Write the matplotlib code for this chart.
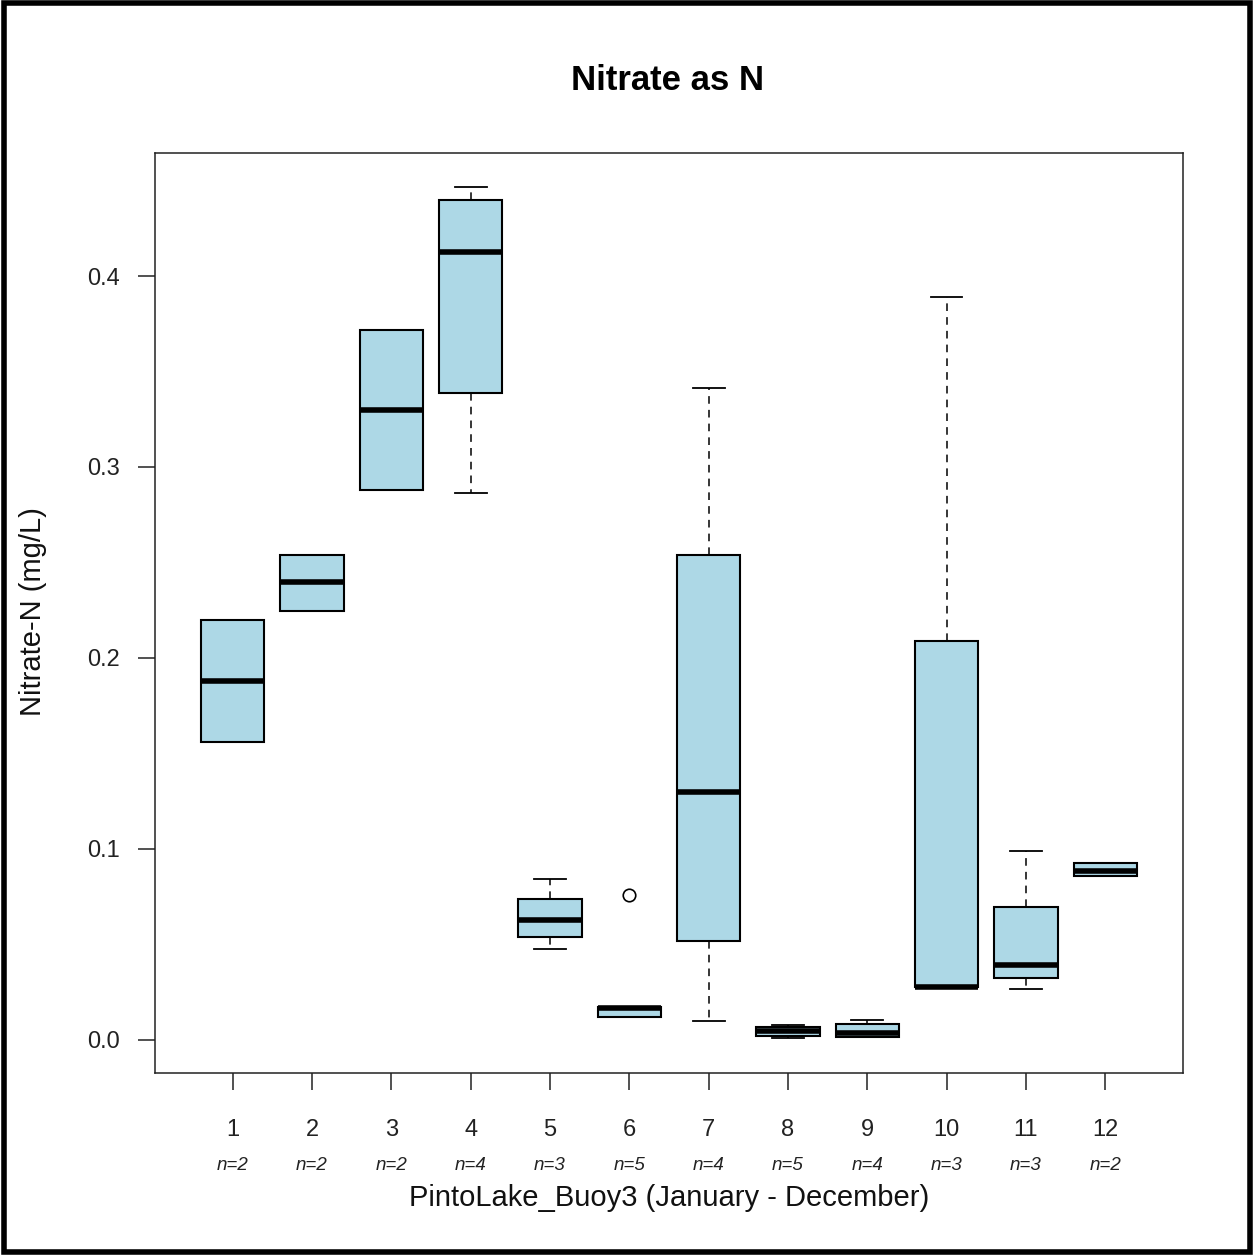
import numpy as np
import matplotlib
matplotlib.use('Agg')
import matplotlib.pyplot as plt
from matplotlib.patches import Rectangle

plt.rcParams['font.family'] = ['Liberation Sans', 'DejaVu Sans']

# monthly summary stats (mg/L)
months = [1, 2, 3, 4, 5, 6, 7, 8, 9, 10, 11, 12]
n_obs = [2, 2, 2, 4, 3, 5, 4, 5, 4, 3, 3, 2]
q1 = [0.156, 0.2244, 0.2879, 0.3388, 0.054, 0.0121, 0.0514, 0.0021, 0.0016, 0.0273, 0.0325, 0.0855]
med = [0.1877, 0.2396, 0.3298, 0.4127, 0.0624, 0.0168, 0.1295, 0.0047, 0.0034, 0.0273, 0.0393, 0.0881]
q3 = [0.2197, 0.2538, 0.3718, 0.440, 0.0734, 0.0173, 0.2538, 0.0068, 0.0084, 0.209, 0.0697, 0.0923]
whislo = [0.156, 0.2244, 0.2879, 0.2863, 0.0477, 0.0121, 0.010, 0.001, 0.0016, 0.0273, 0.0267, 0.0855]
whishi = [0.2197, 0.2538, 0.3718, 0.4468, 0.0839, 0.0173, 0.3414, 0.0075, 0.0105, 0.389, 0.0988, 0.0923]
outliers = [[], [], [], [], [], [0.0755], [], [], [], [], [], []]

stats = []
for i in range(len(months)):
    stats.append(dict(med=med[i], q1=q1[i], q3=q3[i], whislo=whislo[i],
                      whishi=whishi[i], fliers=outliers[i], label=str(months[i])))

fig = plt.figure(figsize=(12.54, 12.55), dpi=100)
ax = fig.add_axes([155 / 1254, 1 - 1073 / 1255, (1183 - 155) / 1254, (1073 - 153) / 1255])

bp = ax.bxp(stats, positions=months, widths=0.8, patch_artist=True,
            showfliers=True,
            boxprops=dict(facecolor='#ADD8E6', edgecolor='black', linewidth=1.5),
            medianprops=dict(color='black', linewidth=4, solid_capstyle='butt'),
            whiskerprops=dict(color='black', linewidth=1.1, linestyle=(0, (5, 4))),
            capprops=dict(color='black', linewidth=1.3),
            flierprops=dict(marker='o', markerfacecolor='white', markeredgecolor='black',
                            markersize=9, markeredgewidth=1.2))
for b in bp['boxes']:
    b.set_zorder(3)
for m in bp['medians']:
    m.set_zorder(4)

ax.set_xlim(0.02, 12.98)
ax.set_ylim(-0.0175, 0.4645)
ax.set_yticks([0.0, 0.1, 0.2, 0.3, 0.4])
ax.set_yticklabels(['0.0', '0.1', '0.2', '0.3', '0.4'])
ax.set_xticks(months)
ax.set_xticklabels([str(m) for m in months])
ax.tick_params(axis='both', direction='out', length=12, width=1.1, labelsize=17, colors='#222222')
ax.tick_params(axis='x', pad=21)
ax.tick_params(axis='y', pad=13)
for s in ax.spines.values():
    s.set_linewidth(1.1)
    s.set_color('#222222')

# sample counts under each month
for m, n in zip(months, n_obs):
    ax.text(m, -0.1, f'n={n}', transform=ax.get_xaxis_transform(), ha='center', va='center',
            fontsize=13.5, style='italic', color='#222222')

fig.text(0.5 * (155 + 1183) / 1254, 1 - 1198 / 1255, 'PintoLake_Buoy3 (January - December)',
         ha='center', va='center', fontsize=21, color='#111111')
fig.text(33 / 1254, 1 - 612 / 1255, 'Nitrate-N (mg/L)', rotation=90,
         ha='center', va='center', fontsize=21, color='#111111')
fig.text(668 / 1254, 1 - 81 / 1255, 'Nitrate as N', ha='center', va='center',
         fontsize=25, fontweight='bold', color='black')

# thick frame around the whole picture
fig.patches.append(Rectangle((4 / 1254, 3 / 1255), 1246 / 1254, 1249 / 1255,
                             transform=fig.transFigure, fill=False,
                             edgecolor='black', linewidth=4))

fig.savefig('out.png', dpi=100)
